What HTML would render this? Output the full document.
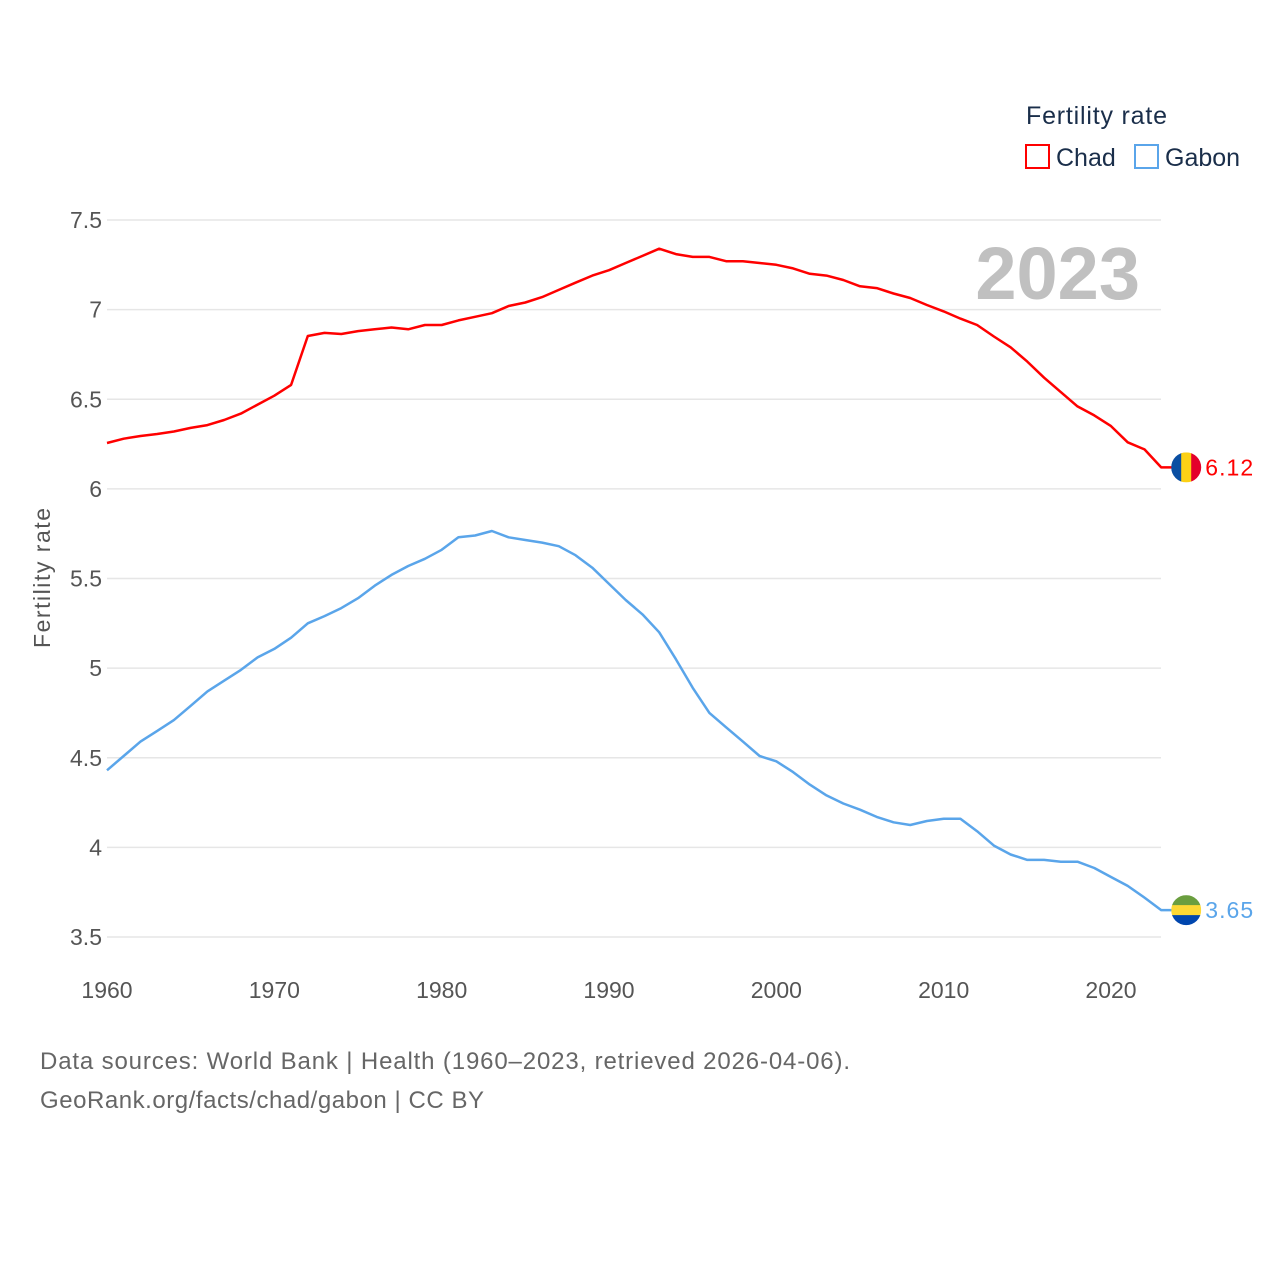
<!DOCTYPE html>
<html><head><meta charset="utf-8"><style>
body{margin:0;background:#fff;}
svg{display:block;font-family:"Liberation Sans",sans-serif;}
</style></head><body>
<svg id="chart" width="1280" height="1280" viewBox="0 0 1280 1280">
<rect width="1280" height="1280" fill="#fff"/>
<g id="grid"></g>
<g id="yticks"></g>
<g id="xticks"></g>
<text x="1140" y="299" text-anchor="end" font-size="74" font-weight="bold" fill="#c0c0c0">2023</text>
<text transform="translate(50,578) rotate(-90)" text-anchor="middle" font-size="23" fill="#555" textLength="140">Fertility rate</text>
<g id="series"></g>
<g>
<text x="1026" y="124" font-size="25" fill="#1a2e4a" textLength="141">Fertility rate</text>
<g>
<rect x="1026" y="145" width="23" height="23" fill="none" stroke="#ff0000" stroke-width="2"/>
<text x="1056" y="166" font-size="25" fill="#1a2e4a">Chad</text></g>
<g>
<rect x="1135" y="145" width="23" height="23" fill="none" stroke="#5aa5ea" stroke-width="2"/>
<text x="1165" y="166" font-size="25" fill="#1a2e4a">Gabon</text></g>
</g>
<text x="40" y="1069" font-size="24" fill="#666" textLength="810">Data sources: World Bank | Health (1960–2023, retrieved 2026-04-06).</text>
<text x="40" y="1108" font-size="24" fill="#666" textLength="444">GeoRank.org/facts/chad/gabon | CC BY</text>
</svg>
<script>
const years = [];
for (let y = 1960; y <= 2023; y++) years.push(y);
const chad = [6.256,6.28,6.295,6.306,6.32,6.34,6.356,6.384,6.42,6.47,6.52,6.58,6.853,6.87,6.864,6.88,6.89,6.9,6.89,6.914,6.914,6.94,6.96,6.98,7.02,7.04,7.07,7.11,7.15,7.19,7.22,7.26,7.3,7.34,7.31,7.294,7.294,7.27,7.27,7.26,7.25,7.23,7.2,7.19,7.165,7.13,7.12,7.09,7.065,7.026,6.99,6.95,6.914,6.85,6.79,6.71,6.62,6.54,6.46,6.41,6.35,6.26,6.22,6.12];
const gabon = [4.43,4.51,4.59,4.65,4.71,4.79,4.87,4.93,4.99,5.06,5.107,5.17,5.25,5.29,5.335,5.39,5.46,5.52,5.57,5.61,5.66,5.73,5.74,5.765,5.73,5.715,5.7,5.68,5.63,5.56,5.47,5.38,5.3,5.2,5.05,4.89,4.75,4.67,4.59,4.51,4.48,4.42,4.35,4.29,4.245,4.21,4.17,4.14,4.125,4.147,4.16,4.16,4.09,4.01,3.96,3.93,3.93,3.92,3.92,3.885,3.835,3.785,3.72,3.65];
const yTicks = [3.5,4,4.5,5,5.5,6,6.5,7,7.5];
const yTickLabels = ["3.5","4","4.5","5","5.5","6","6.5","7","7.5"];
const xTicks = [1960,1970,1980,1990,2000,2010,2020];

const NS = "http://www.w3.org/2000/svg";
const xs = y => 107 + (y - 1960) * (1111 - 107) / 60;
const ys = v => 937 - (v - 3.5) * (937 - 220) / 4;
function mk(tag, attrs, parent) {
  const e = document.createElementNS(NS, tag);
  for (const k in attrs) e.setAttribute(k, attrs[k]);
  parent.appendChild(e); return e;
}
const grid = document.getElementById('grid');
const yt = document.getElementById('yticks');
yTicks.forEach((v, i) => {
  const l = mk('line', {x1:107, x2:1161, y1:ys(v), y2:ys(v), stroke:'#e6e6e6', 'stroke-width':1.5}, grid);
  
  
  const t = mk('text', {x:102, y:ys(v)+8, 'text-anchor':'end', 'font-size':23, fill:'#555'}, yt);
  t.textContent = yTickLabels[i];
  
  
});
const xt = document.getElementById('xticks');
xTicks.forEach(y => {
  const t = mk('text', {x:xs(y), y:998, 'text-anchor':'middle', 'font-size':23, fill:'#555'}, xt);
  t.textContent = String(y);
  
  
});
const sg = document.getElementById('series');
const lastX = xs(years[years.length - 1]) + 25;
function drawLine(vals, color, name) {
  const n = vals.length - 1;
  const d = vals.map((v, i) => (i ? 'L' : 'M') + xs(years[i]).toFixed(1) + ' ' + ys(v).toFixed(1)).join(' ')
    + ' L' + (lastX - 14) + ' ' + ys(vals[n]).toFixed(1);
  const p = mk('path', {d:d, fill:'none', stroke:color, 'stroke-width':2.5, 'stroke-linejoin':'round'}, sg);
  
  
}
drawLine(chad, '#ff0000', 'chad-line');
drawLine(gabon, '#5aa5ea', 'gabon-line');

function flag(cy, stripes, vertical, name) {
  const g = mk('g', {}, sg);
  
  
  const id = name + '-clip';
  const cp = mk('clipPath', {id:id}, g);
  mk('circle', {cx:lastX, cy:cy, r:15}, cp);
  const gg = mk('g', {'clip-path':'url(#' + id + ')'}, g);
  const w = 30 / stripes.length;
  stripes.forEach((c, i) => {
    if (vertical) mk('rect', {x:lastX - 15 + i*w, y:cy-15, width:w+0.5, height:30, fill:c}, gg);
    else mk('rect', {x:lastX-15, y:cy - 15 + i*w, width:30, height:w+0.5, fill:c}, gg);
  });
}
const cy1 = ys(chad[chad.length-1]), cy2 = ys(gabon[gabon.length-1]);
flag(cy1, ['#0a4ea2','#fcd116','#e4002b'], true, 'chad-flag');
flag(cy2, ['#6a9e3f','#fcd835','#0046ae'], false, 'gabon-flag');
const l1 = mk('text', {x:lastX+19, y:cy1+8, 'font-size':23, fill:'#ff0000', textLength:48}, sg);
l1.textContent = chad[chad.length-1].toFixed(2);


const l2 = mk('text', {x:lastX+19, y:cy2+8, 'font-size':23, fill:'#5aa5ea', textLength:48}, sg);
l2.textContent = gabon[gabon.length-1].toFixed(2);


</script>
</body></html>
